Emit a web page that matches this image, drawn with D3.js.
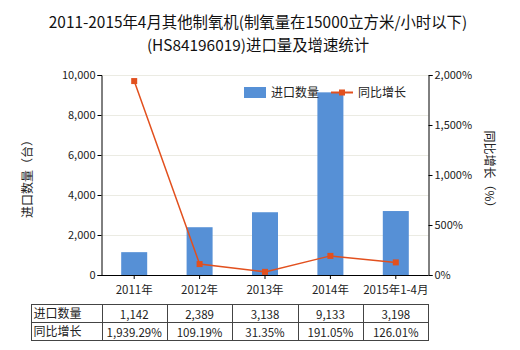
<!DOCTYPE html>
<html><head><meta charset="utf-8">
<script src="https://cdn.jsdelivr.net/npm/d3@7/dist/d3.min.js"></script>
<style>body{margin:0;background:#fff}svg{display:block}text{font-family:"Noto Sans CJK SC","Microsoft YaHei",sans-serif}</style>
</head><body><svg id="c" width="520" height="350"></svg>
<script>
const categories = ["2011年","2012年","2013年","2014年","2015年1-4月"];
const importQty = [1142, 2389, 3138, 9133, 3198];
const growth = [1939.29, 109.19, 31.35, 191.05, 126.01];
const qtyLabels = ["1,142","2,389","3,138","9,133","3,198"];
const growthLabels = ["1,939.29%","109.19%","31.35%","191.05%","126.01%"];
const leftTicks = [0,2000,4000,6000,8000,10000];
const rightTicks = [0,500,1000,1500,2000];
const seriesNames = ["进口数量","同比增长"];

const svg = d3.select("#c");
const L = 101.5, R = 428.5, T = 75, B = 275;
const x = d3.scaleBand().domain(categories).range([L,R]);
const y = d3.scaleLinear().domain([0,10000]).range([B,T]);
const y2 = d3.scaleLinear().domain([0,2000]).range([B,T]);
const barColor = "#5690d6", lineColor = "#e2501e";

// title
const title = svg.append("text").attr("text-anchor","middle").attr("font-size",15.4).attr("fill","#111");
title.append("tspan").attr("x",258).attr("y",28).text("2011-2015年4月其他制氧机(制氧量在15000立方米/小时以下)");
title.append("tspan").attr("x",258).attr("y",51).text("(HS84196019)进口量及增速统计");

// grid
svg.append("g").selectAll("line").data(leftTicks.slice(1)).join("line")
  .attr("x1",L).attr("x2",R).attr("y1",d=>Math.round(y(d))+0.5).attr("y2",d=>Math.round(y(d))+0.5)
  .attr("stroke","#ebebe3").attr("stroke-width",1);

// bars
const bw = 26;
svg.append("g").selectAll("rect").data(importQty).join("rect")
  .attr("x",(d,i)=>x(categories[i])+x.bandwidth()/2-bw/2)
  .attr("width",bw).attr("y",d=>y(d)).attr("height",d=>B-y(d)).attr("fill",barColor);

// axes
const axL = svg.append("g").attr("transform",`translate(${L},0)`)
  .call(d3.axisLeft(y).tickValues(leftTicks).tickFormat(d3.format(",")).tickSize(4).tickPadding(2));
const axR = svg.append("g").attr("transform",`translate(${R},0)`)
  .call(d3.axisRight(y2).tickValues(rightTicks).tickFormat(d=>d3.format(",")(d)+"%").tickSize(4).tickPadding(2));
const axB = svg.append("g").attr("transform",`translate(0,${B})`)
  .call(d3.axisBottom(x).tickSize(4).tickFormat(""));
[axL,axR,axB].forEach(g=>{
  g.select(".domain").attr("stroke","#000");
  g.selectAll(".tick line").attr("stroke","#000");
  g.selectAll("text").attr("font-size",11).attr("fill","#222").attr("font-family",'"Noto Sans CJK SC",sans-serif');
});
axB.select(".domain").attr("d",`M${L},0.5H${R}`);

// line
const cx = (d,i)=>x(categories[i])+x.bandwidth()/2;
svg.append("path").datum(growth)
  .attr("d",d3.line().x(cx).y(d=>y2(d)))
  .attr("fill","none").attr("stroke",lineColor).attr("stroke-width",1.5);
svg.append("g").selectAll("rect").data(growth).join("rect")
  .attr("x",(d,i)=>cx(d,i)-3).attr("y",d=>y2(d)-3).attr("width",6).attr("height",6).attr("fill",lineColor);

// axis titles
svg.append("text").attr("transform","translate(32,176) rotate(-90)").attr("text-anchor","middle")
  .attr("font-size",12).attr("fill","#222").text("进口数量（台）");
svg.append("text").attr("transform","translate(485,172) rotate(90)").attr("text-anchor","middle")
  .attr("font-size",12).attr("fill","#222").text("同比增长（%）");

// legend
const lg = svg.append("g");
lg.append("rect").attr("x",244).attr("y",87).attr("width",22).attr("height",11).attr("fill",barColor);
lg.append("text").attr("x",271).attr("y",96.5).attr("font-size",12).attr("fill","#222").text(seriesNames[0]);
lg.append("line").attr("x1",331).attr("x2",353).attr("y1",92.5).attr("y2",92.5).attr("stroke",lineColor).attr("stroke-width",2);
lg.append("rect").attr("x",339).attr("y",89.5).attr("width",6).attr("height",6).attr("fill",lineColor);
lg.append("text").attr("x",358).attr("y",96.5).attr("font-size",12).attr("fill","#222").text(seriesNames[1]);

// category labels
svg.append("g").selectAll("text").data(categories).join("text")
  .attr("x",(d)=>x(d)+x.bandwidth()/2).attr("y",294).attr("text-anchor","middle")
  .attr("font-size",11.5).attr("fill","#222").text(d=>d);

// table
const tL = 31.5, tT = 304.5, rh = 18;
const tbl = svg.append("g");
const rows = [[seriesNames[0], qtyLabels],[seriesNames[1], growthLabels]];
const colEdges = [tL, ...categories.map(c=>x(c)), R];
tbl.append("rect").attr("x",tL).attr("y",tT).attr("width",R-tL).attr("height",rh*2).attr("fill","none").attr("stroke","#444");
tbl.append("line").attr("x1",tL).attr("x2",R).attr("y1",tT+rh).attr("y2",tT+rh).attr("stroke","#444");
colEdges.slice(1,-1).forEach(e=>tbl.append("line").attr("x1",Math.round(e)+0.5).attr("x2",Math.round(e)+0.5).attr("y1",tT).attr("y2",tT+rh*2).attr("stroke","#444"));
rows.forEach((r,ri)=>{
  tbl.append("text").attr("x",tL+2).attr("y",tT+rh*ri+13).attr("font-size",12).attr("fill","#222").text(r[0]);
  r[1].forEach((v,ci)=>{
    tbl.append("text").attr("x",x(categories[ci])+x.bandwidth()/2).attr("y",tT+rh*ri+14.5)
      .attr("text-anchor","middle").attr("font-size",11.5).attr("fill","#222").text(v);
  });
});
</script></body></html>
